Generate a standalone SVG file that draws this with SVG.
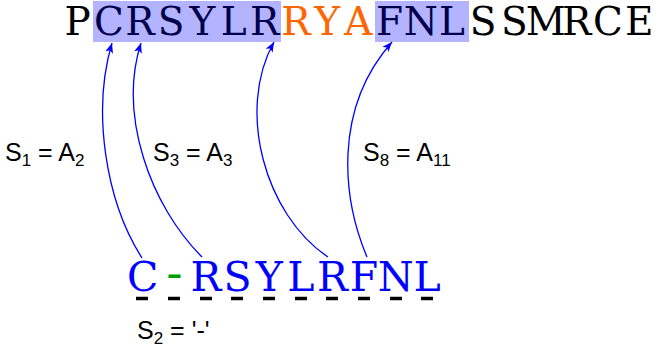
<svg xmlns="http://www.w3.org/2000/svg" width="661" height="355" viewBox="0 0 661 355">
<defs>
<style>
.seq{font-family:"DejaVu Serif","Liberation Serif",serif;text-anchor:middle}
.top{font-size:39px}
.bot{font-size:41px;fill:#0000ff}
.hy{font-family:"Liberation Mono","Courier New",monospace;font-size:44px}
.lbl{font-family:"Liberation Sans",Arial,sans-serif;font-size:25px;fill:#000}
.sub{font-size:17px}
.hl{fill:#b3b3ff}
.arr{fill:none;stroke:#0000ff;stroke-width:1.3;marker-end:url(#ah)}
.dash{stroke:#000;stroke-width:3.5}
</style>
<marker id="ah" viewBox="0 0 10 8" refX="10" refY="4" markerWidth="10" markerHeight="8" markerUnits="userSpaceOnUse" orient="auto">
<path d="M0,0 L10,4 L0,8 L2.5,4 Z" fill="#0000ff"/>
</marker>
</defs>
<rect width="661" height="355" fill="#fff"/>
<g id="target-sequence">
<rect class="hl" x="93" y="1" width="188" height="41"/>
<rect class="hl" x="375" y="1" width="94" height="41"/>
<text class="seq top" y="35"><tspan x="77.6" fill="#000">P</tspan><tspan x="108.8 140 171.2 202.4 233.6 264.8" fill="#00004d">CRSYLR</tspan><tspan x="296 327.2 358.4" fill="#ff6600">RYA</tspan><tspan x="389.6 420.8 452" fill="#00004d">FNL</tspan><tspan x="483.2 514.4 545.6 576.8 608 639.2" fill="#000">SSMRCE</tspan></text>
</g>
<g id="query-sequence">
<text class="seq bot" y="291"><tspan x="142.8">C</tspan><tspan class="hy" x="174.4" y="288" fill="#00a000">-</tspan><tspan x="206 237.6 269.2 300.8 332.4 364 395.6 427.2" y="291">RSYLRFNL</tspan></text>
<g id="gap-marks">
<line class="dash" x1="136" y1="298.5" x2="148" y2="298.5"/>
<line class="dash" x1="168" y1="298.5" x2="180" y2="298.5"/>
<line class="dash" x1="200" y1="298.5" x2="212" y2="298.5"/>
<line class="dash" x1="231" y1="298.5" x2="243" y2="298.5"/>
<line class="dash" x1="263" y1="298.5" x2="275" y2="298.5"/>
<line class="dash" x1="295" y1="298.5" x2="307" y2="298.5"/>
<line class="dash" x1="326" y1="298.5" x2="338" y2="298.5"/>
<line class="dash" x1="358" y1="298.5" x2="370" y2="298.5"/>
<line class="dash" x1="390" y1="298.5" x2="402" y2="298.5"/>
<line class="dash" x1="421" y1="298.5" x2="433" y2="298.5"/>
</g>
</g>
<g id="connectors">
<path class="arr" d="M142,258 C105,200 92,110 112,43"/>
<path class="arr" d="M202,257 C150,205 118,115 141,43"/>
<path class="arr" d="M328,257 C265,215 236,110 274,42"/>
<path class="arr" d="M367,257 C343,200 332,110 392,42"/>
</g>
<g id="labels">
<text class="lbl" x="5" y="161">S<tspan class="sub" dy="5">1</tspan><tspan dy="-5"> = A</tspan><tspan class="sub" dy="5">2</tspan></text>
<text class="lbl" x="153" y="161">S<tspan class="sub" dy="5">3</tspan><tspan dy="-5"> = A</tspan><tspan class="sub" dy="5">3</tspan></text>
<text class="lbl" x="363" y="161">S<tspan class="sub" dy="5">8</tspan><tspan dy="-5"> = A</tspan><tspan class="sub" dy="5">11</tspan></text>
<text class="lbl" x="137" y="339">S<tspan class="sub" dy="5">2</tspan><tspan dy="-5"> = '-'</tspan></text>
</g>
</svg>
